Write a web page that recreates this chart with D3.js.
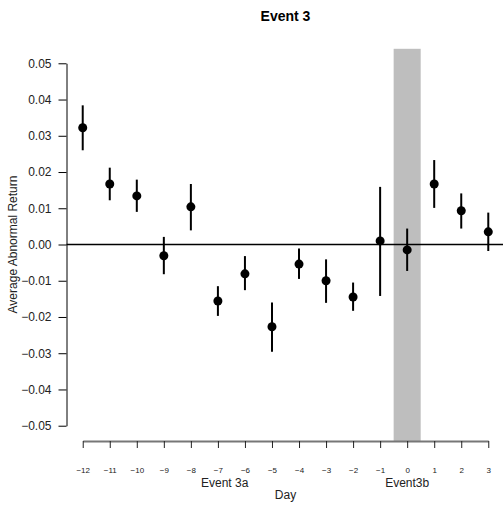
<!DOCTYPE html>
<html>
<head>
<meta charset="utf-8">
<script src="https://cdn.jsdelivr.net/npm/d3@7"></script>
<style>
  body { margin: 0; background: #fff; }
  text { font-family: "Liberation Sans", Arial, sans-serif; }
</style>
</head>
<body>
<div id="chart"></div>
<script>
// Data
const days = [-12, -11, -10, -9, -8, -7, -6, -5, -4, -3, -2, -1, 0, 1, 2, 3];
const estimates = [0.0322, 0.0167, 0.0134, -0.0031, 0.0104, -0.0156, -0.0081, -0.0227, -0.0054, -0.0100, -0.0145, 0.0010, -0.0015, 0.0167, 0.0093, 0.0035];
const lower = [0.0260, 0.0122, 0.0090, -0.0082, 0.0039, -0.0197, -0.0126, -0.0296, -0.0095, -0.0161, -0.0183, -0.0142, -0.0073, 0.0101, 0.0044, -0.0018];
const upper = [0.0384, 0.0212, 0.0179, 0.0021, 0.0167, -0.0115, -0.0032, -0.0160, -0.0011, -0.0041, -0.0105, 0.0159, 0.0044, 0.0233, 0.0141, 0.0088];
const yTicks = [-0.05, -0.04, -0.03, -0.02, -0.01, 0, 0.01, 0.02, 0.03, 0.04, 0.05];
const eventLabels = ['Event 3a', 'Event3b'];
const eventDays = [-6.75, 0];
const shadedDays = [-0.5, 0.5];

const width = 503, height = 506;
const plot = { left: 66.5, right: 504.5, top: 48.8, bottom: 440.2 };

const svg = d3.select('#chart').append('svg')
    .attr('width', width)
    .attr('height', height);

// Scales with R-style 4% padding
const x = d3.scaleLinear().domain([-12.6, 3.6]).range([plot.left, plot.right]);
const y = d3.scaleLinear().domain([-0.054, 0.054]).range([plot.bottom, plot.top]);

const fmtNum = d => (d < 0 ? '\u2212' : '') + Math.abs(d).toFixed(2);
const fmtDay = d => (d < 0 ? '\u2212' : '') + Math.abs(d);

// Shaded event window
svg.append('rect')
    .attr('x', x(shadedDays[0]))
    .attr('y', plot.top)
    .attr('width', x(shadedDays[1]) - x(shadedDays[0]))
    .attr('height', 441 - plot.top)
    .attr('fill', '#bebebe');

// Zero reference line
svg.append('line')
    .attr('x1', plot.left).attr('x2', width)
    .attr('y1', y(0)).attr('y2', y(0))
    .attr('stroke', '#000')
    .attr('stroke-width', 1.3);

// Y axis
const yAxisScale = y.copy().domain([-0.05, 0.05]).range([y(-0.05), y(0.05)]);
const yAxis = svg.append('g')
    .attr('transform', `translate(${plot.left},0)`)
    .call(d3.axisLeft(yAxisScale).tickValues(yTicks).tickFormat(fmtNum).tickSize(8).tickSizeOuter(0).tickPadding(7));
yAxis.select('.domain').attr('stroke', '#000');
yAxis.selectAll('text').style('font-size', '12px').attr('fill', '#222');

// X axis
const xAxisScale = x.copy().domain([-12, 3]).range([x(-12), x(3)]);
const xAxis = svg.append('g')
    .attr('transform', 'translate(0,441)')
    .call(d3.axisBottom(xAxisScale).tickValues(days).tickFormat(fmtDay).tickSize(7).tickSizeOuter(0).tickPadding(19));
xAxis.select('.domain').attr('stroke', '#777').attr('stroke-width', 2);
xAxis.selectAll('.tick line').attr('stroke', '#222');
xAxis.selectAll('text').style('font-size', '8px').attr('fill', '#222');

// Event labels under the axis
svg.append('g').selectAll('text')
    .data(eventLabels)
    .enter().append('text')
    .attr('x', (d, i) => x(eventDays[i]))
    .attr('y', 487)
    .attr('text-anchor', 'middle')
    .style('font-size', '12px')
    .attr('fill', '#222')
    .text(d => d);

// Error bars
svg.append('g').selectAll('line')
    .data(days)
    .enter().append('line')
    .attr('x1', d => x(d)).attr('x2', d => x(d))
    .attr('y1', (d, i) => y(lower[i]))
    .attr('y2', (d, i) => y(upper[i]))
    .attr('stroke', '#000')
    .attr('stroke-width', 2);

// Points
svg.append('g').selectAll('circle')
    .data(days)
    .enter().append('circle')
    .attr('cx', d => x(d))
    .attr('cy', (d, i) => y(estimates[i]))
    .attr('r', 4.5)
    .attr('fill', '#000');

// Title
svg.append('text')
    .attr('x', (plot.left + plot.right) / 2)
    .attr('y', 21)
    .attr('text-anchor', 'middle')
    .style('font-size', '14px')
    .style('font-weight', 'bold')
    .text('Event 3');

// X axis title
svg.append('text')
    .attr('x', (plot.left + plot.right) / 2)
    .attr('y', 499)
    .attr('text-anchor', 'middle')
    .style('font-size', '12px')
    .attr('fill', '#222')
    .text('Day');

// Y axis title
svg.append('text')
    .attr('transform', `translate(17,${(plot.top + plot.bottom) / 2}) rotate(-90)`)
    .attr('text-anchor', 'middle')
    .style('font-size', '12px')
    .attr('fill', '#222')
    .text('Average Abnormal Return');
</script>
</body>
</html>
